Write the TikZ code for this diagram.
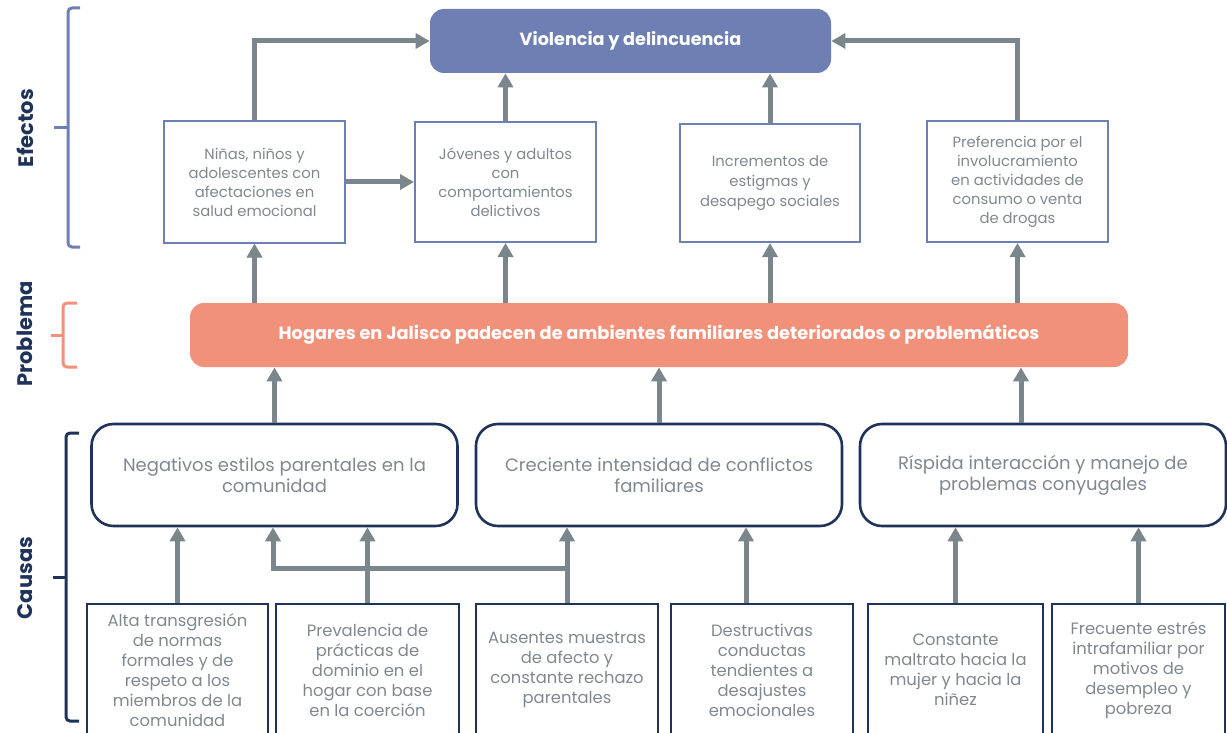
\documentclass[tikz,border=0pt]{standalone}
\usepackage{fontspec}
\setmainfont{Poppins}
\usetikzlibrary{arrows.meta}
\definecolor{azul}{HTML}{6E7FB3}
\definecolor{salmon}{HTML}{F2917A}
\definecolor{marino}{HTML}{1F3259}
\definecolor{gris}{HTML}{7A868C}
\definecolor{texto}{HTML}{80888F}

\begin{document}
\begin{tikzpicture}[x=0.5pt,y=-0.5pt,
		efecto/.style={draw=azul, line width=1pt, text=texto, align=center, font=\fontsize{7.4}{9.5}\selectfont},
		causa/.style={draw=marino, line width=1.3pt, rounded corners=11pt, text=texto, align=center, font=\fontsize{9}{10.5}\selectfont, minimum width=183pt, minimum height=51pt},
		raiz/.style={draw=marino, line width=1.2pt, text=texto, align=center, font=\fontsize{8.2}{10}\selectfont, minimum height=66pt},
		flecha/.style={draw=gris, line width=2.5pt, -{Triangle[length=7pt,width=7.5pt]}},
		etiqueta/.style={rotate=90, text=marino, font=\bfseries\fontsize{10.5}{12}\selectfont},
		llave/.style={line width=1.5pt, rounded corners=2pt}]
		\useasboundingbox (0,0) rectangle (1227,733);
		
		\node[etiqueta] (lefe) at (25,128) {Efectos};
		\node[etiqueta] (lpro) at (25,334) {Problema};
		\node[etiqueta] (lcau) at (25,578) {Causas};
		\draw[llave, azul] (80,8) -- (68,8) -- (68,247) -- (80,247);
		\draw[llave, azul] (68,128) -- (54,128);
		\draw[llave, salmon] (77,303) -- (63,303) -- (63,367) -- (77,367);
		\draw[llave, salmon] (63,335) -- (51,335);
		\draw[llave, marino] (79,433) -- (66,433) -- (66,721) -- (79,721);
		\draw[llave, marino] (66,577) -- (53,577);
		
		\node[fill=azul, rounded corners=7pt, minimum width=200.5pt, minimum height=32pt, text=white, font=\bfseries\fontsize{8.8}{10}\selectfont] (viol) at (630.5,41) {Violencia y delincuencia};
		
		\node[efecto, minimum width=90.5pt, minimum height=60.5pt] (e1) at (254.5,182) {Niñas, niños y\\adolescentes con\\afectaciones en\\salud emocional};
		\node[efecto, minimum width=90.5pt, minimum height=60pt] (e2) at (505.5,182) {Jóvenes y adultos\\con\\comportamientos\\delictivos};
		\node[efecto, minimum width=90pt, minimum height=59pt, font=\fontsize{7.4}{10}\selectfont] (e3) at (770,183) {Incrementos de\\estigmas y\\desapego sociales};
		\node[efecto, minimum width=90.5pt, minimum height=60.5pt] (e4) at (1017.5,181.5) {Preferencia por el\\involucramiento\\en actividades de\\consumo o venta\\de drogas};
		
		\node[fill=salmon, rounded corners=7pt, minimum width=469pt, minimum height=32pt, text=white, font=\bfseries\fontsize{8.9}{10}\selectfont] (prob) at (659,335) {Hogares en Jalisco padecen de ambientes familiares deteriorados o problemáticos};
		
		\node[causa] (c1) at (274.5,475) {Negativos estilos parentales en la\\comunidad};
		\node[causa] (c2) at (659,475) {Creciente intensidad de conflictos\\familiares};
		\node[causa] (c3) at (1043,475) {Ríspida interacción y manejo de\\problemas conyugales};
		
		\node[raiz, minimum width=90.5pt] (b1) at (177.5,670) {Alta transgresión\\de normas\\formales y de\\respeto a los\\miembros de la\\comunidad};
		\node[raiz, minimum width=91.5pt] (b2) at (367.5,670) {Prevalencia de\\prácticas de\\dominio en el\\hogar con base\\en la coerción};
		\node[raiz, minimum width=91pt] (b3) at (567,670) {Ausentes muestras\\de afecto y\\constante rechazo\\parentales};
		\node[raiz, minimum width=91pt] (b4) at (762,670) {Destructivas\\conductas\\tendientes a\\desajustes\\emocionales};
		\node[raiz, minimum width=87.5pt] (b5) at (955.5,670) {Constante\\maltrato hacia la\\mujer y hacia la\\niñez};
		\node[raiz, minimum width=86.5pt] (b6) at (1138.5,670) {Frecuente estrés\\intrafamiliar por\\motivos de\\desempleo y\\pobreza};
		\coordinate (nudo) at (567,568);
		
		\draw[flecha] (e1.north) |- (viol.west);
		\draw[flecha] (e4.north) |- (viol.east);
		\draw[flecha] (e1.east) -- (e2.west);
		\draw[flecha] (e2.north) -- (e2.north |- viol.south);
		\draw[flecha] (e3.north) -- (e3.north |- viol.south);
		\foreach \e in {e1,e2,e3,e4}
			\draw[flecha] (prob.north -| \e) -- (\e.south);
		\draw[flecha] (c1.north) -- (c1.north |- prob.south);
		\draw[flecha] (c2.north) -- (c2.north |- prob.south);
		\draw[flecha] ([xshift=-11pt]c3.north) -- ([xshift=-11pt]c3.north |- prob.south);
		\draw[flecha] (b1.north) -- (b1.north |- c1.south);
		\draw[flecha] (b2.north) -- (b2.north |- c1.south);
		\draw[flecha] (b3.north) -- (b3.north |- c2.south);
		\draw[flecha] (nudo) -| ([xshift=-0.75pt]c1.south);
		\draw[flecha] ([xshift=-8pt]b4.north) -- ([xshift=-8pt]b4.north |- c2.south);
		\draw[flecha] (b5.north) -- (b5.north |- c3.south);
		\draw[flecha] (b6.north) -- (b6.north |- c3.south);
		
	\end{tikzpicture}
\end{document}
